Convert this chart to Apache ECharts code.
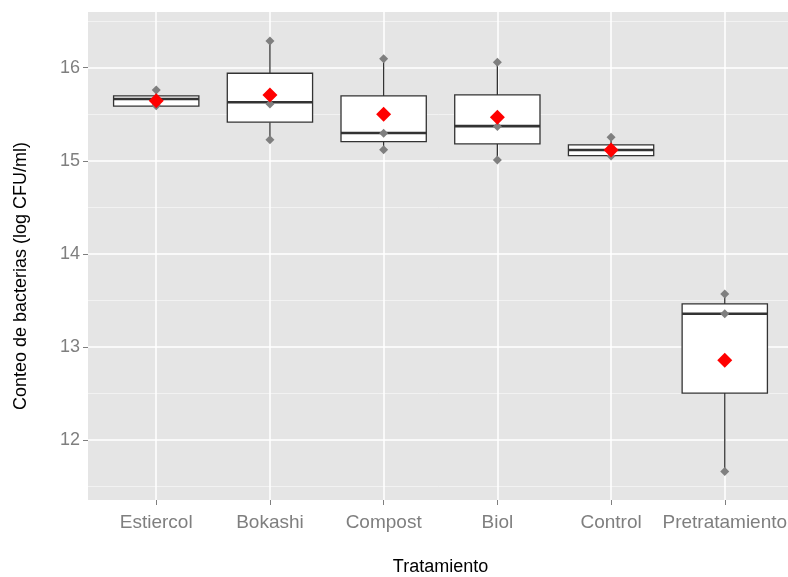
<!DOCTYPE html>
<html>
<head>
<meta charset="utf-8">
<script src="https://cdn.jsdelivr.net/npm/echarts@6/dist/echarts.min.js"></script>
<style>html,body{margin:0;padding:0;background:#fff}#c{width:788px;height:577px}</style>
</head>
<body>
<div id="c"></div>
<script>
// ---- data ----
const categories = ['Estiercol', 'Bokashi', 'Compost', 'Biol', 'Control', 'Pretratamiento'];
const whiskerLow  = [15.58, 15.227, 15.117, 15.009, 15.05, 11.663];
const q1          = [15.586, 15.414, 15.206, 15.181, 15.055, 12.505];
const median      = [15.664, 15.628, 15.298, 15.372, 15.116, 13.356];
const q3          = [15.696, 15.94, 15.696, 15.707, 15.17, 13.462];
const whiskerHigh = [15.76, 16.287, 16.095, 16.058, 15.253, 13.57];
const observations = [
  [15.76, 15.60, 15.59],
  [16.287, 15.61, 15.227],
  [16.095, 15.296, 15.117],
  [16.058, 15.367, 15.009],
  [15.253, 15.116, 15.05],
  [13.57, 13.356, 11.663]
];
const means = [15.645, 15.707, 15.50, 15.467, 15.116, 12.857];
const yTicks = [12, 13, 14, 15, 16];
const yMinorTicks = [11.5, 12.5, 13.5, 14.5, 15.5, 16.5];

// ---- build series data ----
const xIdx = categories.map((_, i) => i);
const boxData = categories.map((_, i) => [i, whiskerLow[i], q1[i], median[i], q3[i], whiskerHigh[i]]);
const pointData = [];
observations.forEach((arr, i) => arr.forEach(v => pointData.push([i, v])));
const meanData = means.map((v, i) => [i, v]);

const chart = echarts.init(document.getElementById('c'), null, {renderer: 'canvas'});
const FONT = 'Liberation Sans, Arial, sans-serif';
chart.setOption({
  animation: false,
  grid: {left: 88, top: 12, width: 705, bottom: 77, show: true, backgroundColor: '#E5E5E5', borderWidth: 0,
         containLabel: false, outerBoundsMode: 'none'},
  xAxis: {
    type: 'value', min: -0.6, max: 5.6,
    name: 'Tratamiento', nameLocation: 'middle', nameGap: 58,
    nameTextStyle: {color: '#000', fontSize: 18, fontFamily: FONT},
    axisLine: {show: false, onZero: false},
    axisTick: {show: true, customValues: xIdx, length: 5, lineStyle: {color: '#7F7F7F', width: 1}},
    axisLabel: {customValues: xIdx, formatter: v => categories[Math.round(v)], color: '#7F7F7F', fontSize: 19, fontFamily: FONT, margin: 13},
    splitLine: {show: true, lineStyle: {color: '#FFFFFF', width: 1.5}}
  },
  yAxis: [{
    type: 'value', min: 11.356, max: 16.598,
    name: 'Conteo de bacterias (log CFU/ml)', nameLocation: 'middle', nameGap: 58,
    nameTextStyle: {color: '#000', fontSize: 18, fontFamily: FONT, padding: [0, 40, 0, 0]},
    axisLine: {show: false, onZero: false},
    axisTick: {show: true, customValues: yTicks, length: 5, lineStyle: {color: '#7F7F7F', width: 1}},
    axisLabel: {customValues: yTicks, color: '#7F7F7F', fontSize: 18, fontFamily: FONT, margin: 8},
    splitLine: {show: true, lineStyle: {color: '#FFFFFF', width: 1.5}}
  }, {
    type: 'value', min: 11.356, max: 16.598, position: 'left',
    axisLine: {show: false, onZero: false},
    axisTick: {show: false, customValues: yMinorTicks},
    axisLabel: {show: false, customValues: yMinorTicks},
    splitLine: {show: true, lineStyle: {color: '#F2F2F2', width: 1}}
  }],
  series: [{
    type: 'custom',
    data: boxData,
    encode: {x: 0, y: [1, 2, 3, 4, 5]},
    z: 2,
    renderItem: function (params, api) {
      const x = api.value(0);
      const lo = api.coord([x, api.value(1)]);
      const b1 = api.coord([x, api.value(2)]);
      const md = api.coord([x, api.value(3)]);
      const b3 = api.coord([x, api.value(4)]);
      const hi = api.coord([x, api.value(5)]);
      const w = api.size([0.75, 0])[0];
      const cx = lo[0];
      const st = {stroke: '#333333', lineWidth: 1.3};
      return {type: 'group', children: [
        {type: 'line', shape: {x1: cx, y1: hi[1], x2: cx, y2: b3[1]}, style: st},
        {type: 'line', shape: {x1: cx, y1: b1[1], x2: cx, y2: lo[1]}, style: st},
        {type: 'rect', shape: {x: cx - w / 2, y: b3[1], width: w, height: b1[1] - b3[1]}, style: {fill: '#FFFFFF', stroke: '#333333', lineWidth: 1.3}},
        {type: 'line', shape: {x1: cx - w / 2, y1: md[1], x2: cx + w / 2, y2: md[1]}, style: {stroke: '#333333', lineWidth: 2.6}}
      ]};
    }
  }, {
    type: 'scatter', data: pointData, symbol: 'diamond', symbolSize: 9, z: 3,
    itemStyle: {color: '#7F7F7F', opacity: 1}
  }, {
    type: 'scatter', data: meanData, symbol: 'diamond', symbolSize: 15, z: 4,
    itemStyle: {color: '#FF0000', opacity: 1}
  }]
});
</script>
</body>
</html>
